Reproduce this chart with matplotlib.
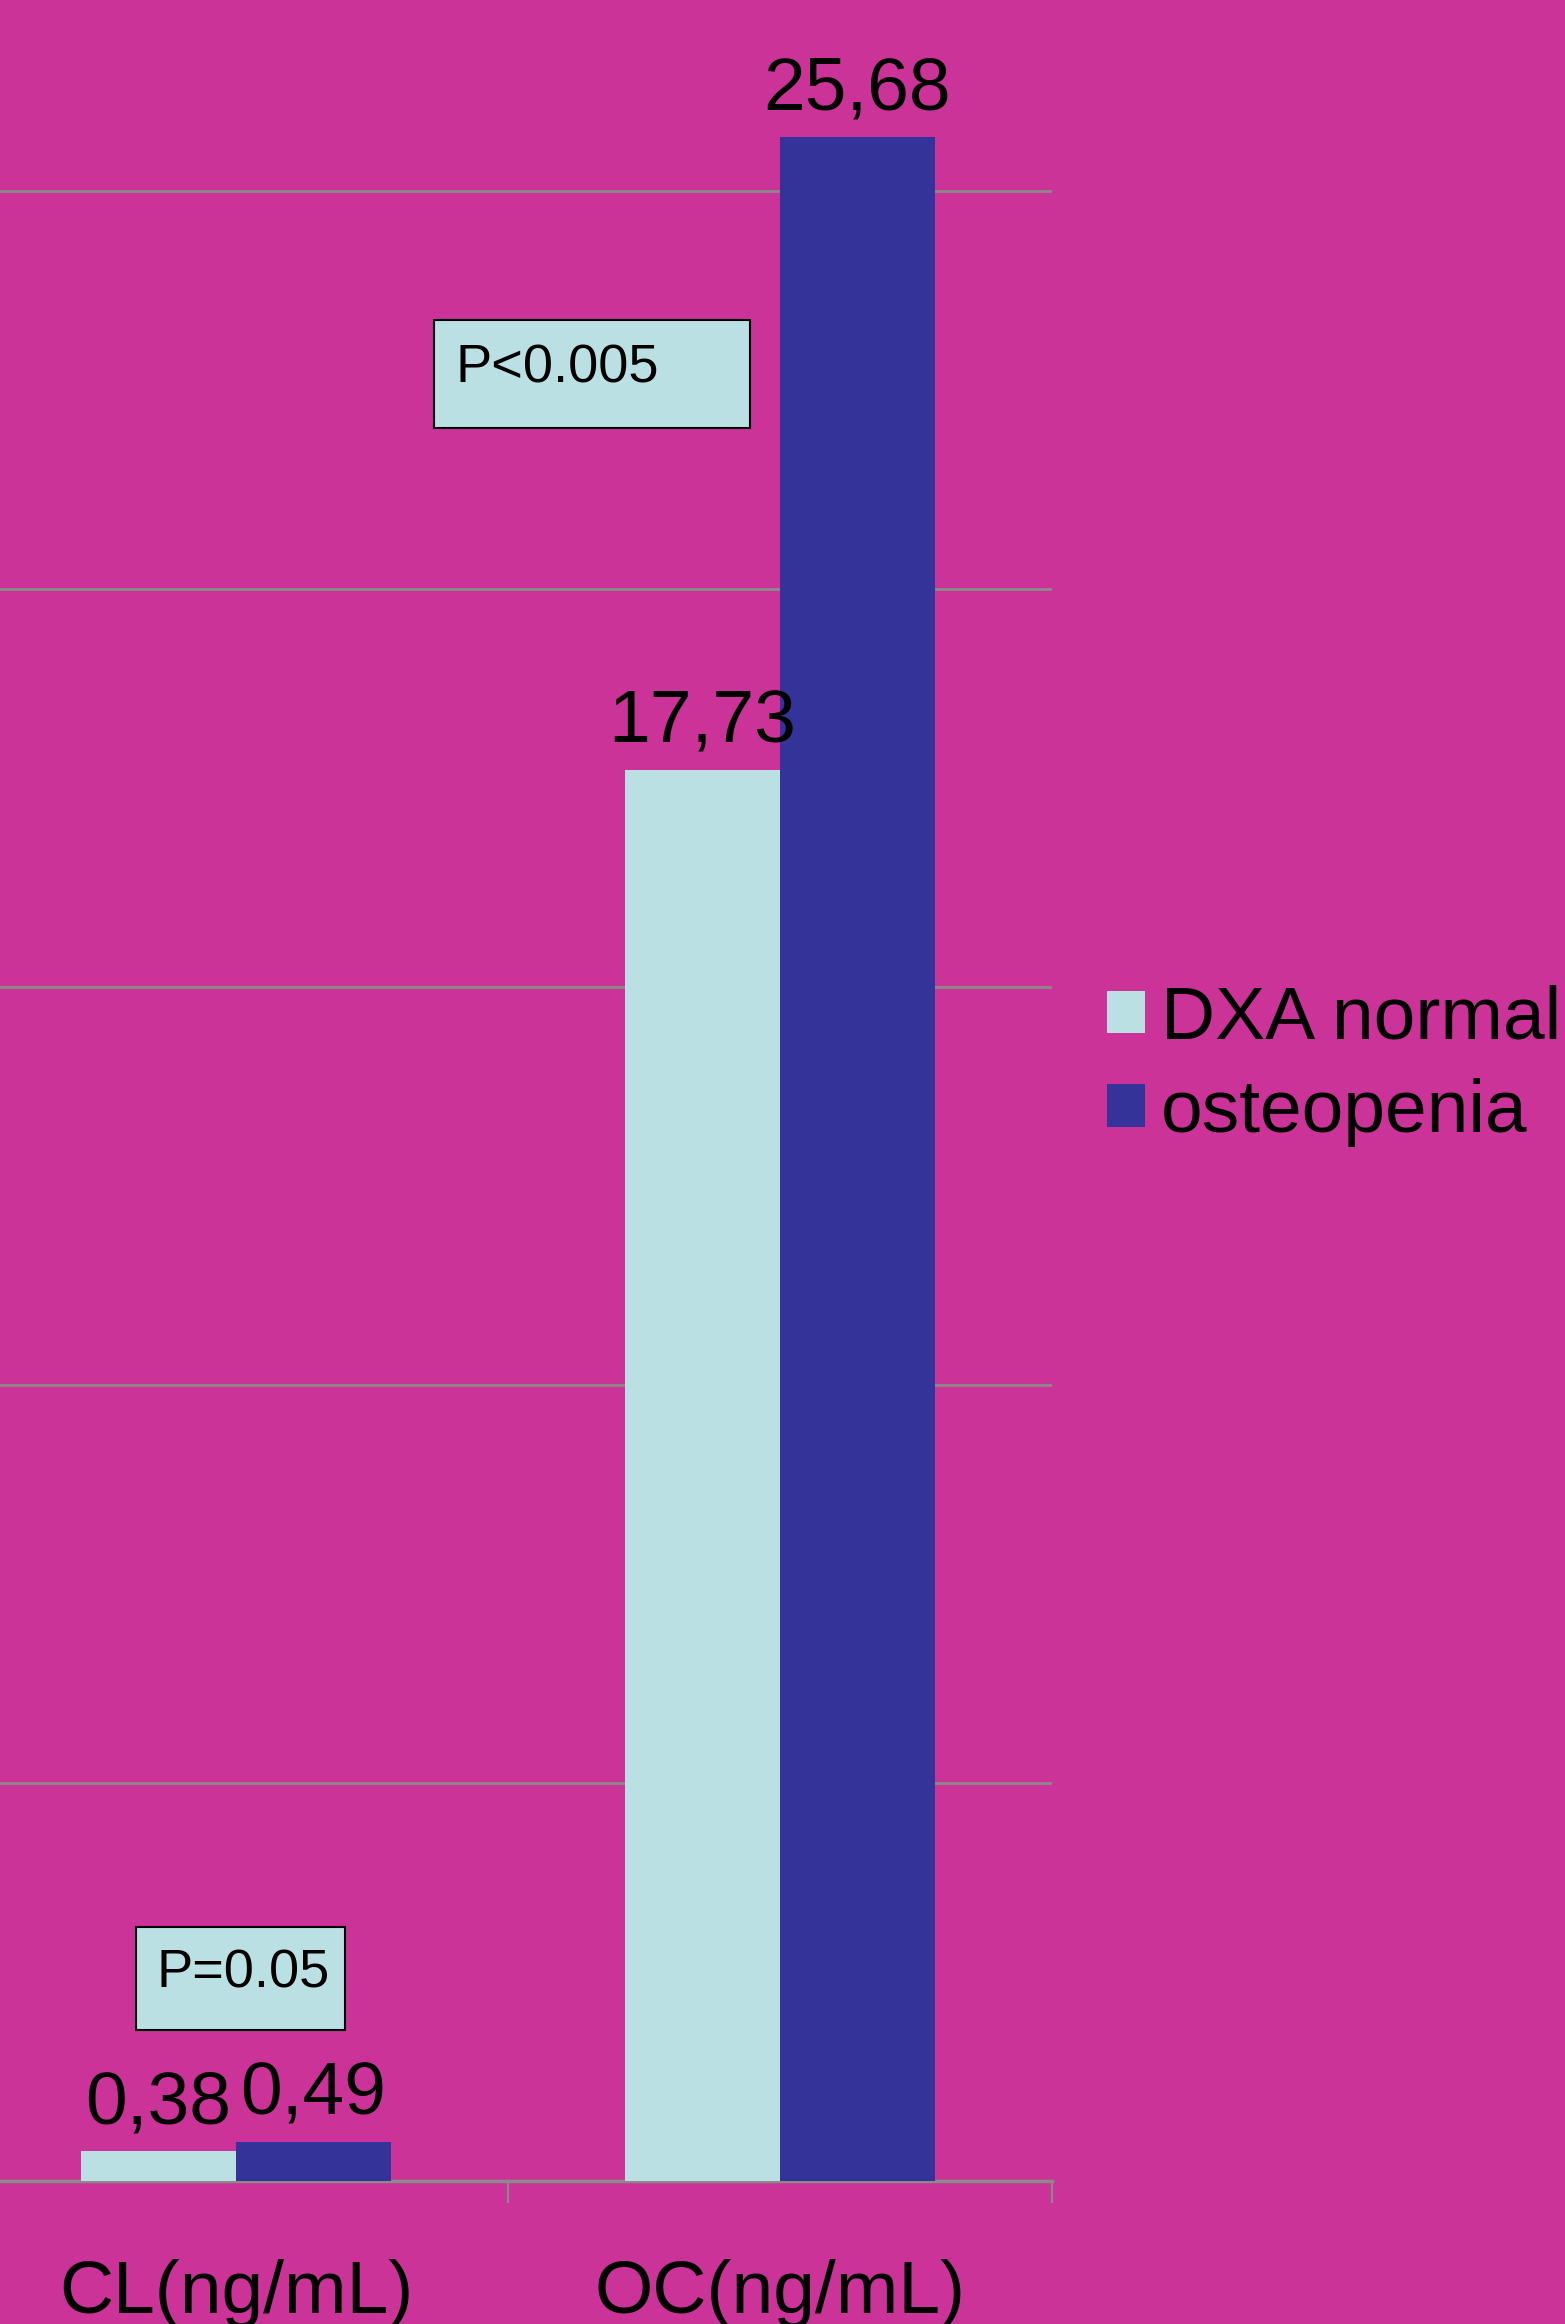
import numpy as np
import matplotlib
matplotlib.use('Agg')
import matplotlib.pyplot as plt
from matplotlib.patches import Rectangle

# --- Data ---
categories = ['CL(ng/mL)', 'OC(ng/mL)']
series_names = ['DXA normal', 'osteopenia']
dxa_normal = [0.38, 17.73]
osteopenia = [0.49, 25.68]
p_labels = ['P=0.05', 'P<0.005']

# --- Style ---
BG = '#CC3399'
LIGHT = '#BBE0E3'
DARK = '#333399'
GRID = '#8A8A8A'
plt.rcParams['font.family'] = ['Liberation Sans', 'DejaVu Sans']

fig = plt.figure(figsize=(15.65, 23.24), dpi=100, facecolor=BG)
# axes extends a little past the left edge (image is a crop)
ax = fig.add_axes([-36 / 1565, 1 - 2181 / 2324, 1088 / 1565, 2181 / 2324])
ax.set_facecolor(BG)

x = np.arange(len(categories))
w = 0.285
b1 = ax.bar(x - w / 2, dxa_normal, w, color=LIGHT, label=series_names[0], zorder=3)
b2 = ax.bar(x + w / 2, osteopenia, w, color=DARK, label=series_names[1], zorder=3)

# value labels with comma decimal separator
for bars, vals in [(b1, dxa_normal), (b2, osteopenia)]:
    for r, v in zip(bars, vals):
        ax.annotate(f'{v:.2f}'.replace('.', ','), (r.get_x() + r.get_width() / 2, v),
                    xytext=(0, 9), textcoords='offset points',
                    ha='center', va='bottom', fontsize=54, color='black')

ax.set_xlim(-0.5, 1.5)
ax.set_ylim(0, 27.4)
ax.set_yticks(np.arange(0, 30, 5))
ax.yaxis.grid(True, color=GRID, linewidth=2)
ax.set_axisbelow(True)
ax.tick_params(axis='y', left=False, labelleft=False)

for s in ['top', 'right', 'left']:
    ax.spines[s].set_visible(False)
ax.spines['bottom'].set_color(GRID)
ax.spines['bottom'].set_linewidth(2.5)

ax.set_xticks(x)
ax.set_xticklabels(categories, fontsize=54)
ax.tick_params(axis='x', which='major', length=0, pad=56)
ax.set_xticks([-0.5, 0.5, 1.5], minor=True)
ax.tick_params(axis='x', which='minor', length=16, width=1.5, color=GRID)

# p-value boxes
boxes = [(0.158, 0.0692, 0.192, 0.0472, 0.1765, 0.0889),
         (0.432, 0.8038, 0.2904, 0.0495, 0.4513, 0.8244)]
for lbl, (bx, by, bw, bh, tx, ty) in zip(p_labels, boxes):
    ax.add_patch(Rectangle((bx, by), bw, bh, transform=ax.transAxes,
                           facecolor=LIGHT, edgecolor='black', linewidth=1.5, zorder=5))
    ax.text(tx, ty, lbl, transform=ax.transAxes, fontsize=39, va='baseline',
            ha='left', color='black', zorder=6)

fig.legend(handles=[b1, b2], labels=series_names, loc='center left',
           bbox_to_anchor=(1107 / 1565, 1 - 1066 / 2324), frameon=False,
           fontsize=54, handlelength=0.5, handleheight=0.5, handletextpad=0.22,
           borderpad=0, borderaxespad=0, labelspacing=0.33)

plt.savefig('out.png', dpi=100, facecolor=BG)
plt.close()
